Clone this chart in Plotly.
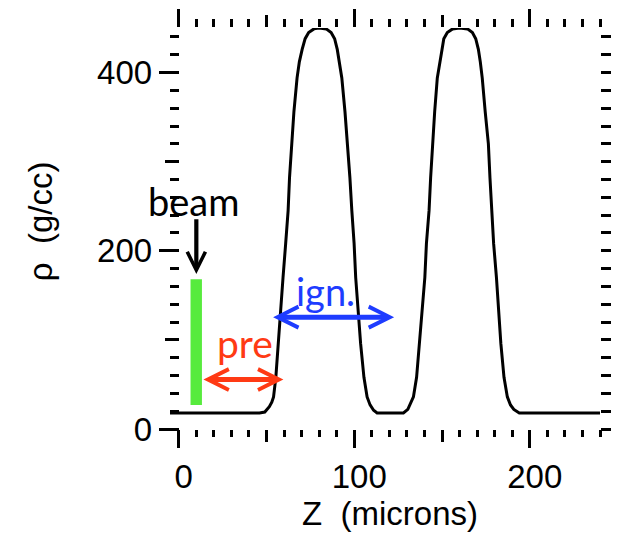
import plotly.graph_objects as go

# ---- data ----
z_microns = [-5, 46, 49, 51.6, 53, 54, 55.3, 56.6, 58.1, 59.4, 60.9, 62.3, 63.1, 64.3, 65.6, 67.4, 68.7, 70.3, 72, 74, 77, 80,
             84, 86.8, 88.8, 90.3, 91.6, 92.9, 94.7, 96.2, 97.5, 98.6, 99.9, 100.8, 102.1, 103.6, 105.5, 107.3, 109, 111, 113,
             128, 130.5, 132.3, 133.7, 135.5, 137, 138.5, 140.2, 141.1, 142.6, 143.5, 144.5, 145.8, 147.3, 148.6, 150, 151, 153, 156, 160,
             164.5, 167.3, 169.2, 170.7, 171.8, 172.9, 174.6, 176.4, 177.3, 178.4, 179.4, 181, 182.2, 183.5, 185.3, 187.2, 189, 190.9, 194, 240]
rho_gcc = [18, 18, 19, 25, 30, 36, 58, 96, 133, 170, 208, 245, 282, 320, 356, 394, 412, 426, 438, 445, 449, 450,
           449, 445, 438, 426, 412, 394, 356, 320, 282, 245, 208, 170, 133, 96, 58, 36, 27, 21, 18,
           18, 22, 29, 36, 58, 96, 133, 170, 208, 245, 282, 320, 356, 394, 412, 426, 438, 445, 449, 450,
           449, 445, 438, 426, 412, 394, 356, 320, 282, 245, 208, 170, 133, 96, 58, 36, 27, 22, 18, 18]

x_major = [0, 100, 200]
x_ticktext = ["0", "100", "200"]
x_medium = [50, 150]
y_major = [0, 200, 400]
y_ticktext = ["0", "200", "400"]
y_medium = [100, 300]

x_range = [-5, 240]
y_range = [0, 450]

fig = go.Figure()
fig.add_trace(go.Scatter(x=z_microns, y=rho_gcc, mode="lines",
                         line=dict(color="black", width=3),
                         showlegend=False, hoverinfo="skip"))
# dummy traces to register overlay axes
for xa, ya in [("x2", "y"), ("x3", "y"), ("x4", "y"), ("x", "y2"), ("x", "y3")]:
    fig.add_trace(go.Scatter(x=[None], y=[None], xaxis=xa, yaxis=ya, mode="lines",
                             showlegend=False, hoverinfo="skip"))

# beam bar
fig.add_shape(type="rect", xref="x", yref="y", x0=6.7, x1=13.2, y0=27, y1=168,
              fillcolor="#57EB3D", line=dict(width=0), layer="above")

RED = "#FF3A14"
BLUE = "#1E3CFF"

def arrow(x0, y0, x1, y1, color, width, size, both):
    return dict(x=x1, y=y1, ax=x0, ay=y0, xref="x", yref="y", axref="x", ayref="y",
                text="", showarrow=True, arrowhead=5, startarrowhead=5,
                arrowside="end+start" if both else "end",
                arrowwidth=width, arrowsize=size, startarrowsize=size,
                arrowcolor=color, standoff=0, startstandoff=0, font=dict(size=1))

annotations = [
    arrow(10, 237, 10, 174, "black", 4.2, 0.85, False),
    arrow(13.2, 55.5, 59.6, 55.5, RED, 5, 0.82, True),
    arrow(52.9, 125.5, 122.7, 125.5, BLUE, 5, 0.82, True),
    dict(x=8.4, y=256, xref="x", yref="y", text="beam", showarrow=False,
         font=dict(family="Lato", size=38, color="black"), xanchor="center", yanchor="middle"),
    dict(x=37.6, y=97, xref="x", yref="y", text="pre", showarrow=False,
         font=dict(family="Lato", size=39, color=RED), xanchor="center", yanchor="middle"),
    dict(x=83.5, y=155, xref="x", yref="y", text="ign.", showarrow=False,
         font=dict(family="Lato", size=38, color=BLUE), xanchor="center", yanchor="middle"),
    dict(x=0.511, y=-0.211, xref="paper", yref="paper", text="Z\u00a0 (microns)", showarrow=False,
         font=dict(family="Liberation Sans", size=33, color="black"), xanchor="center", yanchor="middle"),
    dict(x=-0.302, y=0.5186, xref="paper", yref="paper", text="\u03c1\u00a0 (g/cc)", showarrow=False,
         textangle=-90, font=dict(family="Liberation Sans", size=33, color="black"),
         xanchor="center", yanchor="middle"),
]

common = dict(showgrid=False, zeroline=False, showline=False, ticks="outside",
              tickcolor="black", tickwidth=2.5)
tickfont = dict(family="Liberation Sans", size=33, color="black")

fig.update_layout(
    width=620, height=534,
    margin=dict(l=170, r=10, t=26, b=105),
    paper_bgcolor="white", plot_bgcolor="white",
    showlegend=False,
    annotations=annotations,
    xaxis=dict(range=x_range, domain=[0, 1], anchor="y", side="bottom",
               tickmode="array", tickvals=x_major, ticktext=x_ticktext, ticklen=18,
               tickfont=tickfont, ticklabelshift=5,
               minor=dict(ticks="outside", tickmode="linear", tick0=0, dtick=10, ticklen=7,
                          tickwidth=2.5, tickcolor="black"), **common),
    xaxis2=dict(range=x_range, overlaying="x", anchor="y", side="bottom",
                tickmode="array", tickvals=x_medium, ticklen=12, showticklabels=False, **common),
    xaxis3=dict(range=x_range, overlaying="x", anchor="y", side="top",
                tickmode="array", tickvals=x_major, ticklen=18, showticklabels=False,
                minor=dict(ticks="outside", tickmode="linear", tick0=0, dtick=10, ticklen=8,
                           tickwidth=2.5, tickcolor="black"), **common),
    xaxis4=dict(range=x_range, overlaying="x", anchor="y", side="top",
                tickmode="array", tickvals=x_medium, ticklen=12, showticklabels=False, **common),
    yaxis=dict(range=y_range, domain=[0, 1], anchor="free", position=5 / 245, side="left",
               tickmode="array", tickvals=y_major, ticktext=y_ticktext, ticklen=20,
               tickfont=tickfont,
               minor=dict(ticks="outside", tickmode="linear", tick0=0, dtick=20, ticklen=9,
                          tickwidth=2.5, tickcolor="black"), **common),
    yaxis2=dict(range=y_range, overlaying="y", anchor="free", position=5 / 245, side="left",
                tickmode="array", tickvals=y_medium, ticklen=14, showticklabels=False, **common),
    yaxis3=dict(range=y_range, overlaying="y", anchor="x", side="right",
                tickmode="linear", tick0=0, dtick=20, ticklen=10, showticklabels=False, **common),
)

fig.write_html("out.html")
